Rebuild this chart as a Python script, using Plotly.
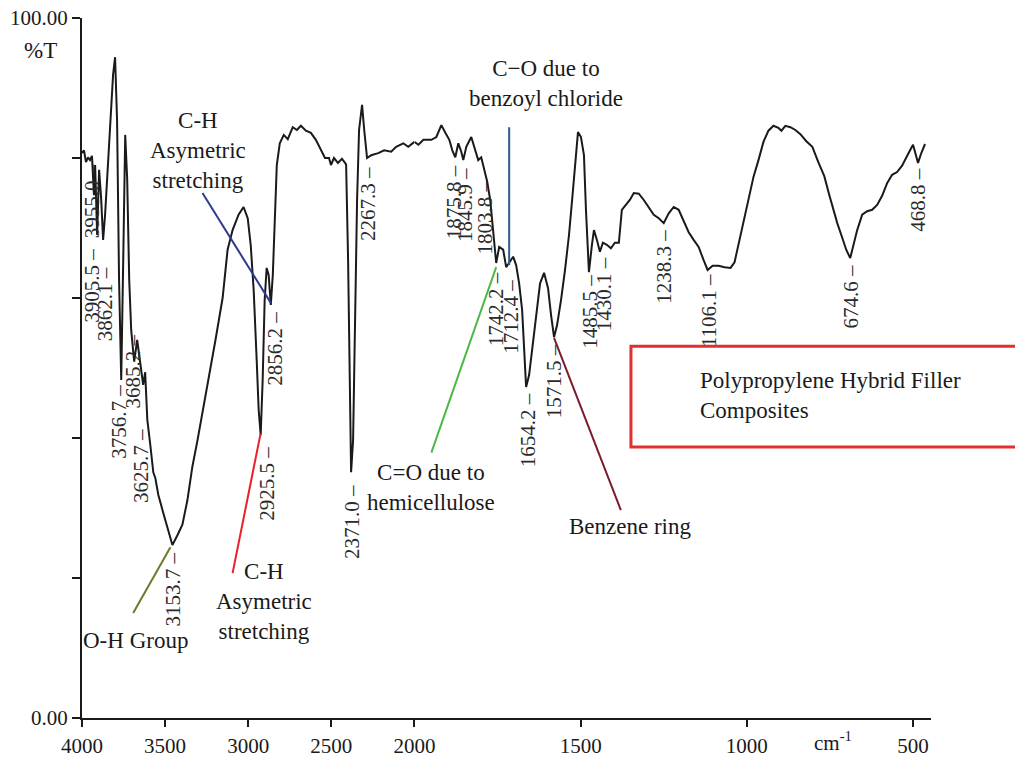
import plotly.graph_objects as go

# ---------------- data ----------------
wavenumber = [
    4000, 3988, 3976, 3964, 3952, 3940, 3928, 3921, 3909, 3897, 3885, 3873, 3861, 3849,
    3831, 3813, 3801, 3789, 3777, 3764, 3752, 3740, 3728, 3716, 3704, 3686, 3668, 3650,
    3632, 3620, 3607, 3589, 3571, 3559, 3541, 3511, 3481, 3456, 3426, 3396, 3366, 3336,
    3305, 3275, 3239, 3197, 3154, 3124, 3094, 3058, 3028, 3003, 2985, 2967, 2949, 2937,
    2925, 2913, 2901, 2889, 2877, 2864, 2852, 2840, 2828, 2810, 2786, 2762, 2732, 2707,
    2683, 2653, 2623, 2593, 2563, 2538, 2514, 2502, 2484, 2460, 2436, 2411, 2399, 2390,
    2381, 2369, 2357, 2345, 2333, 2315, 2302, 2285, 2260, 2218, 2182, 2140, 2110, 2067,
    2037, 2000,
    1988, 1973, 1949, 1934, 1919, 1907, 1895, 1886, 1877, 1868, 1859, 1853, 1844, 1829,
    1820, 1808, 1799, 1790, 1781, 1772, 1763, 1754, 1745, 1733, 1724, 1715, 1703, 1694,
    1685, 1676, 1670, 1664, 1655, 1646, 1634, 1622, 1610, 1598, 1589, 1580, 1571, 1559,
    1547, 1535, 1523, 1514, 1508, 1499, 1490, 1484, 1475, 1466, 1460, 1451, 1442, 1433,
    1421, 1409, 1397, 1385, 1376, 1364, 1352, 1340, 1325, 1310, 1295, 1280, 1265, 1250,
    1235, 1220, 1205, 1190, 1175, 1160, 1145, 1130, 1118, 1103, 1085, 1067, 1049, 1037,
    1025, 1010, 995, 980, 965, 950, 935, 920, 905, 896, 884, 869, 854, 839, 821, 803,
    785, 767, 752, 740, 728, 713, 701, 689, 680, 668, 653, 638, 623, 608, 593, 578,
    563, 548, 533, 521, 509, 500, 491, 485, 476, 464,
]
transmittance = [
    80.7, 81.1, 79.4, 80.1, 79.7, 80.3, 74.7, 79.0, 69.0, 78.3, 74.3, 68.3, 71.9, 76.9,
    85.4, 91.9, 94.4, 85.4, 62.6, 48.3, 65.4, 83.3, 76.9, 62.6, 55.4, 50.9, 54.0, 50.4,
    47.6, 49.4, 42.6, 39.0, 35.1, 34.3, 31.9, 29.3, 26.9, 24.7, 26.1, 27.6, 31.1, 35.9,
    39.7, 43.6, 48.3, 54.0, 60.0, 66.9, 69.7, 71.9, 73.0, 71.4, 67.6, 61.1, 51.1, 44.0,
    40.4, 48.3, 59.7, 64.3, 63.3, 59.0, 63.3, 72.6, 79.0, 82.1, 83.3, 82.7, 84.4, 84.0,
    84.6, 83.9, 83.6, 82.6, 81.1, 80.0, 80.0, 79.0, 80.0, 79.3, 79.9, 79.1, 65.4, 45.4,
    35.1, 39.7, 56.9, 74.0, 84.0, 87.6, 84.0, 80.0, 80.4, 80.7, 81.1, 80.9, 81.6, 82.1,
    81.6, 82.3,
    81.9, 82.6, 82.6, 83.0, 84.7, 83.6, 82.6, 81.1, 80.1, 82.1, 80.9, 79.7, 81.6, 83.0,
    81.6, 79.7, 80.1, 78.3, 76.6, 74.0, 69.0, 65.0, 67.3, 66.9, 64.4, 65.1, 65.9, 64.7,
    62.1, 58.3, 52.6, 47.3, 49.0, 52.6, 56.9, 62.1, 63.6, 61.4, 57.6, 54.4, 56.1, 59.7,
    64.0, 69.0, 75.4, 81.1, 83.7, 83.0, 80.4, 72.6, 63.7, 67.6, 69.7, 68.3, 66.6, 67.9,
    67.6, 67.1, 67.9, 67.9, 72.6, 73.3, 74.0, 75.0, 74.9, 74.0, 72.9, 71.9, 71.4, 70.7,
    72.1, 73.0, 72.6, 71.1, 69.4, 68.3, 67.3, 65.4, 64.0, 64.6, 64.6, 64.4, 64.3, 65.1,
    67.6, 71.1, 74.3, 77.3, 79.7, 82.3, 83.9, 84.6, 84.3, 83.9, 84.6, 84.4, 84.0, 83.4,
    82.4, 81.6, 79.4, 77.4, 74.7, 72.6, 70.7, 68.6, 66.9, 65.7, 67.6, 69.7, 71.9, 72.4,
    72.6, 73.3, 74.6, 76.4, 77.6, 78.0, 78.9, 80.1, 81.1, 81.9, 80.4, 79.3, 80.6, 82.0,
]

# peak labels: text, drawn position (cm-1) and %T at the top of the label tick
peak_text = ["3955.0", "3905.5", "3862.1", "3756.7", "3685.2", "3625.7", "3153.7",
             "2925.5", "2856.2", "2371.0", "2267.3", "1875.8", "1845.9", "1803.8",
             "1742.2", "1712.4", "1654.2", "1571.5", "1485.5", "1430.1", "1238.3",
             "1106.1", "674.6", "468.8"]
peak_x = [3940, 3940, 3861, 3777, 3692, 3644, 3450, 2889, 2840, 2375, 2279, 1880,
          1850, 1787, 1754, 1709, 1658, 1580, 1472, 1430, 1250, 1115, 686, 485]
peak_y = [79.4, 67.3, 64.7, 47.9, 55.1, 41.6, 24.0, 39.0, 58.3, 33.6, 79.0, 79.3,
          78.9, 77.1, 64.0, 62.9, 46.7, 53.7, 63.6, 66.1, 70.0, 63.7, 65.1, 78.9]

x_ticks_high = [4000, 3500, 3000, 2500, 2000]
x_ticks_low = [1500, 1000, 500]
y_ticks = [0, 100]
y_ticktext = ["0.00", "100.00"]
y_minor_step = 20

# ---------------- figure ----------------
FONT = "Liberation Serif"
INK = "#1a1a1a"
BREAK = 2000
X_END = 446
# region above 2000 cm-1 is drawn at half the scale of the region below it
split = ((4000 - BREAK) / 2) / ((4000 - BREAK) / 2 + (BREAK - X_END))

hi = [(w, t) for w, t in zip(wavenumber, transmittance) if w >= BREAK]
lo = [(w, t) for w, t in zip(wavenumber, transmittance) if w <= BREAK]

fig = go.Figure()
fig.add_trace(go.Scatter(x=[p[0] for p in hi], y=[p[1] for p in hi], mode="lines",
                         line=dict(color=INK, width=2), xaxis="x", yaxis="y",
                         showlegend=False, hoverinfo="skip"))
fig.add_trace(go.Scatter(x=[p[0] for p in lo], y=[p[1] for p in lo], mode="lines",
                         line=dict(color=INK, width=2), xaxis="x2", yaxis="y",
                         showlegend=False, hoverinfo="skip"))

axis_common = dict(showline=True, linewidth=2, linecolor=INK, ticks="outside",
                   ticklen=7, tickwidth=2, tickcolor=INK, showgrid=False,
                   zeroline=False, tickfont=dict(family=FONT, size=21, color=INK),
                   anchor="y", ticklabelstandoff=1, automargin=False)

fig.update_layout(
    width=1015, height=760,
    margin=dict(l=82, r=84, t=18, b=42, autoexpand=False),
    paper_bgcolor="white", plot_bgcolor="white",
    font=dict(family=FONT, color=INK),
    xaxis=dict(domain=[0, split], range=[4000, BREAK], tickvals=x_ticks_high,
               **axis_common),
    xaxis2=dict(domain=[split, 1], range=[BREAK, X_END], tickvals=x_ticks_low,
                **axis_common),
    yaxis=dict(range=[0, 100], tickvals=y_ticks, ticktext=y_ticktext,
               showline=True, linewidth=2, linecolor=INK, ticks="outside",
               ticklen=8, tickwidth=2, tickcolor=INK, showgrid=False,
               zeroline=False, anchor="x", automargin=False,
               minor=dict(dtick=y_minor_step, tick0=0, ticks="outside", ticklen=8,
                          tickwidth=2, tickcolor=INK, showgrid=False),
               tickfont=dict(family=FONT, size=21, color=INK)),
)

annotations = []
for txt, px, py in zip(peak_text, peak_x, peak_y):
    annotations.append(dict(
        x=px, y=py, xref="x" if px >= BREAK else "x2", yref="y",
        text=txt + " \u2013", textangle=-90, showarrow=False,
        xanchor="center", yanchor="top",
        font=dict(family=FONT, size=21, color="#2a2a2a")))

callout_font = dict(family=FONT, size=23, color=INK)
annotations += [
    dict(x=3305, y=81.1, xref="x", yref="y", text="C-H<br>Asymetric<br>stretching",
         showarrow=False, font=callout_font, xanchor="center", yanchor="middle"),
    dict(x=2907, y=16.7, xref="x", yref="y", text="C-H<br>Asymetric<br>stretching",
         showarrow=False, font=callout_font, xanchor="center", yanchor="middle"),
    dict(x=3680, y=11.1, xref="x", yref="y", text="O-H Group",
         showarrow=False, font=callout_font, xanchor="center", yanchor="middle"),
    dict(x=1949, y=32.9, xref="x2", yref="y", text="C=O due to<br>hemicellulose",
         showarrow=False, font=callout_font, xanchor="center", yanchor="middle"),
    dict(x=1604, y=90.7, xref="x2", yref="y", text="C\u2212O due to<br>benzoyl chloride",
         showarrow=False, font=callout_font, xanchor="center", yanchor="middle"),
    dict(x=1352, y=27.3, xref="x2", yref="y", text="Benzene ring",
         showarrow=False, font=callout_font, xanchor="center", yanchor="middle"),
    dict(x=0.7256, y=0.461, xref="paper", yref="paper",
         text="Polypropylene Hybrid Filler<br>Composites", align="left",
         showarrow=False, font=callout_font, xanchor="left", yanchor="middle"),
    dict(x=-0.049, y=0.954, xref="paper", yref="paper", text="%T",
         showarrow=False, font=callout_font, xanchor="center", yanchor="middle"),
    dict(x=0.885, y=-0.033, xref="paper", yref="paper", text="cm<sup>-1</sup>",
         showarrow=False, font=dict(family=FONT, size=21, color=INK),
         xanchor="center", yanchor="middle"),
]

shapes = [
    dict(type="line", xref="x", yref="y", x0=3275, y0=75.0, x1=2864, y1=59.3,
         line=dict(color="#2e3a8c", width=2)),
    dict(type="line", xref="x", yref="y", x0=2925, y0=40.7, x1=3094, y1=20.7,
         line=dict(color="#e8202a", width=2)),
    dict(type="line", xref="x", yref="y", x0=3468, y0=24.4, x1=3692, y1=15.0,
         line=dict(color="#6b7a2a", width=2)),
    dict(type="line", xref="x2", yref="y", x0=1754, y0=64.4, x1=1949, y1=37.9,
         line=dict(color="#4cb84a", width=2)),
    dict(type="line", xref="x2", yref="y", x0=1715, y0=84.4, x1=1715, y1=64.7,
         line=dict(color="#2c5d8a", width=2)),
    dict(type="line", xref="x2", yref="y", x0=1580, y0=54.3, x1=1379, y1=29.7,
         line=dict(color="#7b1c2c", width=2)),
    dict(type="rect", xref="paper", yref="paper", x0=0.6466, y0=0.387, x1=1.12, y1=0.531,
         line=dict(color="#e03030", width=3), fillcolor="rgba(0,0,0,0)"),
]

fig.update_layout(annotations=annotations, shapes=shapes)
# remove the browser's default 8px page margin so the figure fills the window
fig.write_html("out.html", config={"displayModeBar": False},
               post_script="document.body.style.margin='0';"
                           "document.body.style.overflow='hidden';")
